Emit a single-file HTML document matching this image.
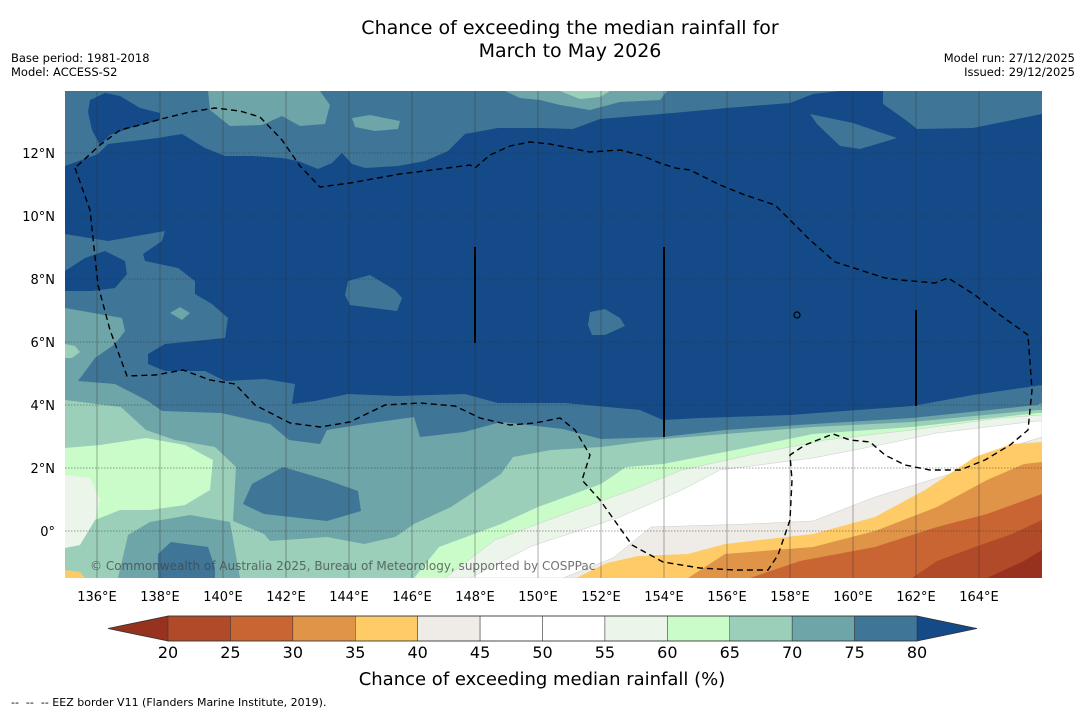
<!DOCTYPE html>
<html><head><meta charset="utf-8">
<style>
body{margin:0;background:#fff;width:1085px;height:713px;overflow:hidden;font-family:"Liberation Sans","DejaVu Sans",sans-serif;}
svg text{font-family:"DejaVu Sans","Liberation Sans",sans-serif;}
</style></head>
<body>
<svg id="chart" width="1085" height="713" viewBox="0 0 1085 713" xmlns="http://www.w3.org/2000/svg">
<text x="570" y="34" font-size="19" text-anchor="middle">Chance of exceeding the median rainfall for</text>
<text x="570" y="57" font-size="19" text-anchor="middle">March to May 2026</text>
<text x="11" y="62" font-size="11.5">Base period: 1981-2018</text>
<text x="11" y="76" font-size="11.5">Model: ACCESS-S2</text>
<text x="1075" y="62" font-size="11.5" text-anchor="end">Model run: 27/12/2025</text>
<text x="1075" y="76" font-size="11.5" text-anchor="end">Issued: 29/12/2025</text>
<defs><clipPath id="mapclip"><rect x="65" y="91" width="977" height="487"/></clipPath></defs>
<g id="map" clip-path="url(#mapclip)">
<rect x="65" y="91" width="977" height="487" fill="#6ea5a8"/>
<polygon fill="#3f7597" points="65,91 1042,91 1042,403 1037,405 912,418 813,424 725,430 663,437 601,439 563,429 501,422 464,432 420,437 414,417 364,424 327,430 320,444 289,440 270,424 221,413 162,411 148,401 115,384 78,381 95,358 115,344 125,331 122,318 65,308"/>
<polygon fill="#6ea5a8" points="208,91 320,91 330,105 325,124 300,126 282,116 262,125 230,126 210,110"/>
<polygon fill="#6ea5a8" points="352,118 370,115 400,121 398,129 375,131 355,127"/>
<polygon fill="#6ea5a8" points="505,91 667,91 660,100 620,102 590,110 560,105 540,100 520,98"/>
<polygon fill="#9bcfba" points="560,91 610,91 600,97 580,99"/>
<polygon fill="#134a87" points="65,166 98,154 108,144 158,138 182,134 205,148 225,156 252,156 282,158 298,161 318,169 332,163 342,153 352,164 365,168 398,166 425,161 448,151 465,134 498,128 540,128 573,129 600,119 673,113 727,108 790,103 813,94 840,91 883,91 883,104 907,121 917,129 973,128 1042,114 1042,385 973,395 912,406 790,415 700,418 663,420 640,410 565,403 498,403 465,394 398,396 348,394 315,401 292,404 295,384 265,379 225,381 205,371 165,371 148,364 148,354 165,344 225,338 228,318 212,304 195,294 195,281 178,268 145,261 143,254 162,241 165,231 108,241 65,234"/>
<polygon fill="#134a87" points="90,100 105,93 120,96 140,108 160,113 160,120 130,128 110,135 100,145 92,130 88,112"/>
<polygon fill="#134a87" points="65,271 85,258 105,251 125,261 127,274 115,288 92,291 65,291"/>
<polygon fill="#3f7597" points="348,281 370,275 395,290 402,298 397,311 350,305 345,295"/>
<polygon fill="#3f7597" points="590,312 605,309 620,318 625,326 605,335 592,335 588,325"/>
<polygon fill="#3f7597" points="810,114 853,123 897,138 860,149 840,146 817,124"/>
<polygon fill="#6ea5a8" points="170,313 180,307 190,313 182,320"/>
<polygon fill="#9bcfba" points="65,344 75,346 80,352 72,358 65,358"/>
<polygon fill="#9bcfba" points="65,400 121,407 146,430 175,440 215,447 236,467 233,521 264,534 270,541 327,537 364,544 395,537 414,524 451,507 501,474 513,457 551,450 601,447 663,439 725,434 813,427 912,422 1037,410 1042,410 1042,578 65,578"/>
<polygon fill="#6ea5a8" points="118,578 128,535 150,522 190,515 230,522 240,578"/>
<polygon fill="#3f7597" points="283,467 327,480 358,491 361,511 327,521 264,514 243,504 252,484"/>
<polygon fill="#3f7597" points="171,542 208,547 215,568 215,580 158,580 158,554"/>
<polygon fill="#c9fcc9" points="65,448 100,445 146,438 185,445 213,460 210,490 185,505 150,510 120,510 95,520 80,540 65,545"/>
<polygon fill="#ebf5ea" points="65,475 90,478 100,500 95,520 80,545 65,548"/>
<polygon fill="#c9fcc9" points="414,578 439,547 501,524 538,507 601,484 626,467 663,464 750,447 813,434 912,427 1037,413 1042,413 1042,578"/>
<polygon fill="#ebf5ea" stroke="#ccc" stroke-width="0.5" points="445,578 495,540 570,512 632,490 682,470 750,455 825,440 912,430 1000,418 1042,415 1042,578"/>
<polygon fill="#ffffff" stroke="#ccc" stroke-width="0.5" points="470,578 532,546 620,517 682,490 720,470 813,458 875,446 937,433 1037,421 1042,421 1042,578"/>
<polygon fill="#efebe7" stroke="#ccc" stroke-width="0.5" points="563,578 613,558 651,527 750,524 813,521 875,497 950,474 1000,450 1042,437 1042,578"/>
<polygon fill="#fecb66" points="576,578 607,563 638,556 688,554 725,544 813,534 875,517 925,490 975,457 1012,444 1042,442 1042,578"/>
<polygon fill="#e09448" points="688,578 725,554 813,547 875,531 937,507 987,480 1024,464 1042,462 1042,578"/>
<polygon fill="#c96433" points="750,578 800,561 875,547 937,527 987,514 1042,494 1042,578"/>
<polygon fill="#b04a28" points="912,578 937,561 975,547 1012,534 1042,520 1042,578"/>
<polygon fill="#96321e" points="987,578 1024,561 1042,550 1042,578"/>
<polygon fill="#fecb66" points="65,570 80,572 85,578 65,578"/>
<g id="grid"></g>
<polyline fill="none" stroke="#000" stroke-width="1.4" stroke-dasharray="6,4" points="75,168 90,210 98,285 110,330 127,376 155,375 183,370 210,380 235,384 255,405 290,423 320,427 350,422 385,405 420,403 455,406 480,418 510,425 535,423 560,418 575,430 590,455 582,480 600,500 632,545 663,562 700,568 735,570 768,570 778,555 790,520 792,480 790,455 805,445 833,434 850,440 870,442 885,455 905,465 930,470 960,470 985,460 1010,445 1028,430 1032,390 1028,335 1000,315 975,295 948,278 935,283 900,280 885,278 860,270 835,262 810,240 790,220 775,205 745,195 720,185 690,170 675,168 660,163 640,155 620,150 590,152 570,148 550,144 530,142 510,146 490,155 475,168 470,165 440,169 400,174 350,183 320,187 300,166 282,140 260,117 240,111 215,108 190,112 165,118 140,125 120,130 100,145 75,168"/>
<line x1="475" y1="247" x2="475" y2="343" stroke="#000" stroke-width="2"/>
<line x1="664" y1="247" x2="664" y2="437" stroke="#000" stroke-width="2"/>
<line x1="916" y1="310" x2="916" y2="406" stroke="#000" stroke-width="2"/>
<circle cx="797" cy="315" r="3" fill="none" stroke="#000" stroke-width="1.2"/>
<text x="90" y="570" font-size="12" fill="#444" fill-opacity="0.75">© Commonwealth of Australia 2025, Bureau of Meteorology, supported by COSPPac</text>
</g>
<g id="axes"></g>
<g id="colorbar"></g>
<text x="542" y="685" font-size="18" text-anchor="middle">Chance of exceeding median rainfall (%)</text>
<text x="11" y="706" font-size="11">--&#160;&#160;--&#160;&#160;-- EEZ border V11 (Flanders Marine Institute, 2019).</text>
</svg>
<script>
const NS="http://www.w3.org/2000/svg";
const lonTicks=[136,138,140,142,144,146,148,150,152,154,156,158,160,162,164];
const latTicks=[0,2,4,6,8,10,12];
const cbLevels=[20,25,30,35,40,45,50,55,60,65,70,75,80];
const cbColors=["#b04a28","#c96433","#e09448","#fecb66","#efebe7","#ffffff","#ffffff","#ebf5ea","#c9fcc9","#9bcfba","#6ea5a8","#3f7597"];
const cbUnder="#96321e";
const cbOver="#134a87";
function xLon(l){return 97+(l-136)*31.5;}
function yLat(l){return 531-l*31.5;}
function mk(tag,attrs,parent){const e=document.createElementNS(NS,tag);for(const k in attrs)e.setAttribute(k,attrs[k]);parent.appendChild(e);return e;}
const grid=document.getElementById('grid');
lonTicks.forEach(l=>{const e=mk('line',{x1:xLon(l),x2:xLon(l),y1:91,y2:578,stroke:'#333','stroke-opacity':0.5,'stroke-width':0.8},grid);

});
latTicks.forEach(l=>{const e=mk('line',{x1:65,x2:1042,y1:yLat(l),y2:yLat(l),stroke:'#333','stroke-opacity':0.6,'stroke-width':0.8,'stroke-dasharray':'1.5,1.5'},grid);

});
const axes=document.getElementById('axes');
lonTicks.forEach(l=>{const t=mk('text',{x:xLon(l),y:601,'font-size':13,'text-anchor':'middle'},axes);t.textContent=l+'°E';

});
latTicks.forEach(l=>{const t=mk('text',{x:55,y:yLat(l)+5,'font-size':13,'text-anchor':'end'},axes);t.textContent=(l===0?'0°':l+'°N');

});
const cb=document.getElementById('colorbar');
const cbX0=168,cbX1=917,cbY=616,cbH=25;
function cbx(v){return cbX0+(v-cbLevels[0])/(cbLevels[cbLevels.length-1]-cbLevels[0])*(cbX1-cbX0);}
const under=mk('polygon',{points:`108,${cbY+cbH/2} ${cbX0},${cbY} ${cbX0},${cbY+cbH}`,fill:cbUnder},cb);


const over=mk('polygon',{points:`977,${cbY+cbH/2} ${cbX1},${cbY} ${cbX1},${cbY+cbH}`,fill:cbOver},cb);


cbColors.forEach((c,i)=>{const r=mk('rect',{x:cbx(cbLevels[i]),y:cbY,width:cbx(cbLevels[i+1])-cbx(cbLevels[i]),height:cbH,fill:c,stroke:'#333','stroke-width':0.5},cb);

});
const outline=mk('polygon',{points:`108,${cbY+cbH/2} ${cbX0},${cbY} ${cbX1},${cbY} 977,${cbY+cbH/2} ${cbX1},${cbY+cbH} ${cbX0},${cbY+cbH}`,fill:'none',stroke:'#333','stroke-width':0.8},cb);


cbLevels.forEach(v=>{const t=mk('text',{x:cbx(v),y:658,'font-size':16,'text-anchor':'middle'},cb);t.textContent=v;

});
</script>
</body></html>
